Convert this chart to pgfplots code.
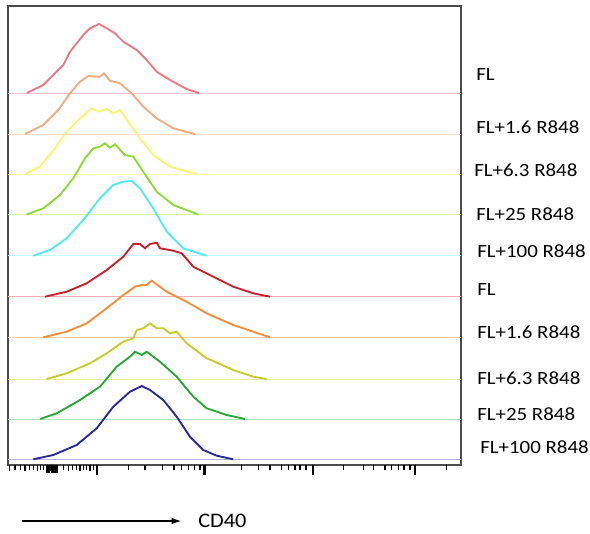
\documentclass[border=0pt]{standalone}
\usepackage{pgfplots}
\pgfplotsset{compat=1.18}
\usetikzlibrary{arrows.meta}
\usepackage{fontspec}
\setmainfont{Carlito}
\definecolor{cA}{RGB}{236,122,128}
\definecolor{cB}{RGB}{240,172,128}
\definecolor{cC}{RGB}{250,244,110}
\definecolor{cD}{RGB}{140,218,52}
\definecolor{cE}{RGB}{80,234,240}
\definecolor{cF}{RGB}{200,30,45}
\definecolor{cG}{RGB}{244,140,60}
\definecolor{cH}{RGB}{198,204,40}
\definecolor{cI}{RGB}{40,168,50}
\definecolor{cJ}{RGB}{40,40,150}
\begin{document}
\begin{tikzpicture}
\begin{scope}[x=0.75pt,y=-0.75pt]
\path[use as bounding box] (0,0) rectangle (590,533);
\end{scope}
\begin{axis}[
  at={(6pt,-4.5pt)}, anchor=north west,
  scale only axis, width=339.75pt, height=344.25pt,
  xmin=8, xmax=461, ymin=0, ymax=459,
  axis line style={draw=black!70, line width=1pt},
  xtick=\empty, ytick=\empty,
  clip=false,
]
% axis scale ticks (drawn below the frame)
\addplot[black, line width=2.2pt, ycomb] coordinates {(97,-10) (204.5,-10) (313,-10) (415,-10)};
\addplot[black, line width=1pt, ycomb] coordinates {(9.3,-6) (15,-5) (20.7,-5) (25,-6) (29.3,-5) (33.3,-5) (37.3,-6) (40.7,-5) (43.3,-5) (63.3,-5) (68.3,-6) (72.7,-5) (76.7,-5) (80,-6) (83.3,-5) (86.7,-5) (90,-6) (93.3,-5) (128.3,-5) (145,-5) (162.3,-5) (174,-5) (181.7,-5) (188.3,-5) (194.3,-5) (200,-5) (241.7,-5) (258.3,-5) (270,-5) (281.7,-5) (288.3,-5) (295,-5) (300,-5) (306,-5) (343.3,-5) (363.3,-5) (373.3,-5) (385,-5) (391.7,-5) (398.3,-5) (404,-5) (410,-5) (446.7,-5)};
\addplot[black, line width=1pt, ycomb] coordinates {(47,-8) (48.2,-8) (49.4,-8) (50.6,-6) (51.8,-8) (53,-8) (54.2,-8) (55.4,-8) (56.6,-8) (57.6,-8)};
% thin baselines
\addplot[cA!40, line width=0.6pt] coordinates {(8,372) (461,372)};
\addplot[cB!40, line width=0.6pt] coordinates {(8,331) (461,331)};
\addplot[cC!45, line width=0.6pt] coordinates {(8,291) (461,291)};
\addplot[cD!35, line width=0.6pt] coordinates {(8,250.5) (461,250.5)};
\addplot[cE!35, line width=0.6pt] coordinates {(8,209.3) (461,209.3)};
\addplot[cF!35, line width=0.6pt] coordinates {(8,168.3) (461,168.3)};
\addplot[cG!40, line width=0.6pt] coordinates {(8,127.7) (461,127.7)};
\addplot[cH!40, line width=0.6pt] coordinates {(8,86) (461,86)};
\addplot[cI!35, line width=0.6pt] coordinates {(8,46) (461,46)};
\addplot[cJ!35, line width=0.6pt] coordinates {(8,5.7) (461,5.7)};
% histograms
\addplot[cA, line width=1.4pt] coordinates {(26.7,372) (43.3,380) (55,391.7) (63.3,400) (70,413.3) (76.7,421.7) (83.3,430) (90,436.7) (99,441) (106.7,436.7) (115,431.7) (123.3,423.3) (136.7,415) (146.7,405) (156.7,393.3) (170,385) (186.7,376) (199,372)};
\addplot[cB, line width=1.4pt] coordinates {(25,331) (43.3,340) (58.3,355) (70,371.7) (80,383.3) (88.3,389) (100,388.3) (104,391.7) (110,384.3) (120,381.7) (131.7,371.7) (143.3,358.3) (156.7,346.7) (173.3,336.7) (195,331)};
\addplot[cC, line width=1.4pt] coordinates {(25,291) (40,298.3) (55,316.7) (66.7,333.3) (80,346.7) (91.7,356.7) (98.3,353.3) (106.7,356) (113.3,351.7) (120,355) (128.3,343.3) (140,326.7) (153.3,310) (170,298.3) (196.7,291)};
\addplot[cD, line width=1.4pt] coordinates {(26.7,250.5) (43.3,256.7) (60,270) (73.3,286.7) (85,306.7) (93.3,316.7) (100,318.3) (105,321.7) (110,317.3) (115,320.7) (125,310) (133.3,308.3) (143.3,293.3) (156.7,273.3) (173.3,260) (198.3,250.5)};
\addplot[cE, line width=1.4pt] coordinates {(33.3,209.3) (50,215) (66.7,226.7) (83.3,245) (100,266.7) (113.3,280) (123.3,283.3) (131.7,284) (140,276.7) (153.3,256.7) (166.7,233.3) (183.3,216.7) (206.7,209.3)};
\addplot[cF, line width=1.4pt] coordinates {(45,168.3) (66.7,173.3) (86.7,181.7) (106.7,195) (123.3,208.3) (133.3,221) (140,221) (145,216.7) (150,221) (156.7,222.3) (160,216.7) (173.3,214.3) (181.7,211.7) (193.3,198.3) (213.3,188.3) (233.3,178.3) (253.3,171.7) (270,168.3)};
\addplot[cG, line width=1.4pt] coordinates {(43.3,127.7) (66.7,133.3) (86.7,141.7) (106.7,156.7) (123.3,170) (135,178.3) (141.7,180) (146.7,180) (151.7,184.3) (166.7,173.3) (186.7,163.3) (206.7,151.7) (233.3,140) (253.3,133.3) (270,127.7)};
\addplot[cH, line width=1.4pt] coordinates {(46.7,86) (66.7,91.7) (90,101.7) (106.7,111.7) (123.3,123.3) (133.3,126.7) (136.7,135) (143.3,136.7) (150,141.7) (156.7,136.7) (163.3,136.7) (170,131.7) (176.7,133.3) (186.7,121.7) (206.7,106.7) (233.3,95) (253.3,88.3) (266.7,86)};
\addplot[cI, line width=1.4pt] coordinates {(40,46) (56.7,51.7) (80,65) (100,78.3) (116.7,98.3) (130,108.3) (135,113.3) (141.7,110) (146.7,113.3) (160,103.3) (176.7,88.3) (193.3,68.3) (206.7,56.7) (226.7,50) (245,46)};
\addplot[cJ, line width=1.4pt] coordinates {(33.3,5.7) (53.3,10) (76.7,20) (96.7,36.7) (113.3,58.3) (130,73.3) (141.7,79) (150,75) (163.3,65) (176.7,48.3) (190,28.3) (203.3,15) (216.7,9.3) (233.3,5.7)};
\end{axis}
\begin{scope}[x=0.75pt,y=-0.75pt]
\tikzset{lab/.style={anchor=west, inner sep=0pt, font=\fontsize{14}{16}\selectfont}}
\newcommand{\wl}[1]{\scalebox{1.12}[1]{#1}}
\node[lab] at (476,75) {\wl{FL}};
\node[lab] at (476,127) {\wl{FL+1.6 R848}};
\node[lab] at (474,170) {\wl{FL+6.3 R848}};
\node[lab] at (476,214) {\wl{FL+25 R848}};
\node[lab] at (477,251) {\wl{FL+100 R848}};
\node[lab] at (477,290) {\wl{FL}};
\node[lab] at (477,332) {\wl{FL+1.6 R848}};
\node[lab] at (477,378) {\wl{FL+6.3 R848}};
\node[lab] at (477,414) {\wl{FL+25 R848}};
\node[lab] at (480,447) {\wl{FL+100 R848}};
\draw[line width=0.8pt, -{Latex[length=7pt,width=5pt]}] (22,521) -- (181,521);
\node[anchor=west, inner sep=0pt, font=\fontsize{15.5}{17}\selectfont] at (198,521) {\scalebox{1.08}[1]{CD40}};
\end{scope}
\end{tikzpicture}
\end{document}
